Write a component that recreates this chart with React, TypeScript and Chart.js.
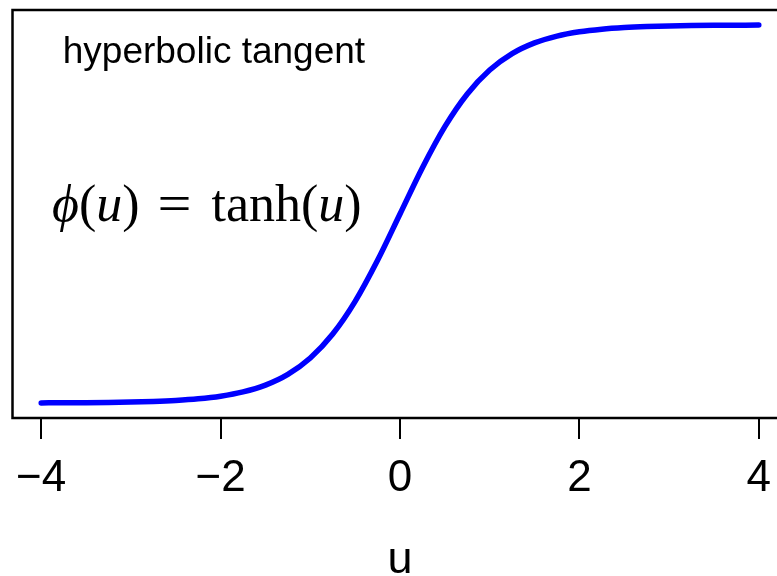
import React, { useEffect, useRef } from "react";
import { Chart, registerables } from "chart.js";

Chart.register(...registerables);

// Sample points of the activation curve
const uValues = [
  -4, -3.75, -3.5, -3.25, -3, -2.75, -2.5, -2.25, -2, -1.75, -1.5, -1.25, -1, -0.75, -0.5, -0.25,
  0, 0.25, 0.5, 0.75, 1, 1.25, 1.5, 1.75, 2, 2.25, 2.5, 2.75, 3, 3.25, 3.5, 3.75, 4,
];
const phiValues = [
  -0.9993, -0.9989, -0.9982, -0.997, -0.9951, -0.9919, -0.9866, -0.978, -0.964, -0.9414, -0.9051,
  -0.8483, -0.7616, -0.6351, -0.4621, -0.2449, 0, 0.2449, 0.4621, 0.6351, 0.7616, 0.8483, 0.9051,
  0.9414, 0.964, 0.978, 0.9866, 0.9919, 0.9951, 0.997, 0.9982, 0.9989, 0.9993,
];

const tickValues = [-4, -2, 0, 2, 4];
const tickLabels = ["\u22124", "\u22122", "0", "2", "4"];

const SANS = "'Liberation Sans', Arial, Helvetica, sans-serif";
const SERIF = "'Liberation Serif', 'DejaVu Serif', serif";

type Piece = [string, boolean];

// Draws a run of roman / italic pieces starting at x, returns the end x
function drawRun(ctx: CanvasRenderingContext2D, pieces: Piece[], x: number, y: number, size: number) {
  let px = x;
  for (const [txt, italic] of pieces) {
    ctx.font = `${italic ? "italic " : ""}${size}px ${SERIF}`;
    ctx.fillText(txt, px, y);
    px += ctx.measureText(txt).width;
  }
  return px;
}

// Box around the plotting region plus the in-plot annotations
const framePlugin = {
  id: "frameAndNotes",
  afterDraw(chart: any) {
    const { ctx, chartArea, scales } = chart;
    const { left, top, right, bottom } = chartArea;
    const xs = scales.x;
    const ys = scales.y;
    ctx.save();
    ctx.strokeStyle = "#000";
    ctx.lineWidth = 2.5;
    ctx.strokeRect(left, top, right - left, bottom - top);

    // heading text
    ctx.fillStyle = "#000";
    ctx.textBaseline = "alphabetic";
    ctx.textAlign = "left";
    ctx.font = `37px ${SANS}`;
    ctx.fillText("hyperbolic tangent", xs.getPixelForValue(-3.76), ys.getPixelForValue(0.8));

    // formula  ϕ(u) = tanh(u)
    const size = 52;
    const x0 = xs.getPixelForValue(-3.88);
    const base = ys.getPixelForValue(-0.037);
    const lhsEnd = drawRun(ctx, [["\u03D5", true], ["(", false], ["u", true], [")", false]], x0, base, size);
    ctx.font = `${size}px ${SERIF}`;
    const eqW = ctx.measureText("=").width;
    ctx.save();
    ctx.translate(lhsEnd + 18, base);
    ctx.scale(34 / eqW, 1);
    ctx.fillText("=", 0, 0);
    ctx.restore();
    drawRun(ctx, [["tanh(", false], ["u", true], [")", false]], lhsEnd + 72, base, size);
    ctx.restore();
  },
};

export default function App() {
  const canvasRef = useRef<HTMLCanvasElement | null>(null);

  useEffect(() => {
    const canvas = canvasRef.current;
    if (!canvas) return;
    const chart = new Chart(canvas, {
      type: "line",
      data: {
        datasets: [
          {
            data: uValues.map((u, i) => ({ x: u, y: phiValues[i] })),
            borderColor: "#0000FF",
            borderWidth: 5.5,
            borderCapStyle: "round",
            borderJoinStyle: "round",
            pointRadius: 0,
            cubicInterpolationMode: "monotone",
            fill: false,
          },
        ],
      },
      options: {
        animation: false,
        responsive: false,
        devicePixelRatio: 1,
        layout: { padding: { left: 12.5, right: 12.5, top: 10, bottom: 0 } },
        plugins: { legend: { display: false }, tooltip: { enabled: false } },
        scales: {
          x: {
            type: "linear",
            min: -4.32,
            max: 4.32,
            afterBuildTicks: (scale: any) => {
              scale.ticks = tickValues.map((v) => ({ value: v }));
            },
            afterFit: (scale: any) => {
              scale.height = 158;
            },
            border: { display: false },
            grid: {
              drawOnChartArea: false,
              drawTicks: true,
              tickLength: 21,
              color: "#000",
              lineWidth: 2,
            },
            ticks: {
              autoSkip: false,
              maxRotation: 0,
              padding: 13,
              color: "#000",
              font: { family: SANS, size: 44 },
              callback: (value: any) => {
                const i = tickValues.indexOf(Number(value));
                return i >= 0 ? tickLabels[i] : "";
              },
            },
            title: {
              display: true,
              text: "u",
              color: "#000",
              font: { family: SANS, size: 45, lineHeight: 0.7 },
              padding: { top: 0, bottom: 0 },
            },
          },
          y: {
            display: false,
            min: -1.0793,
            max: 1.0793,
          },
        },
      },
      plugins: [framePlugin],
    } as any);
    return () => chart.destroy();
  }, []);

  return (
    <div
      style={{
        position: "fixed",
        left: 0,
        top: 0,
        width: 777,
        height: 576,
        overflow: "hidden",
        background: "#fff",
      }}
    >
      <canvas ref={canvasRef} width={800} height={576} style={{ display: "block" }} />
    </div>
  );
}
